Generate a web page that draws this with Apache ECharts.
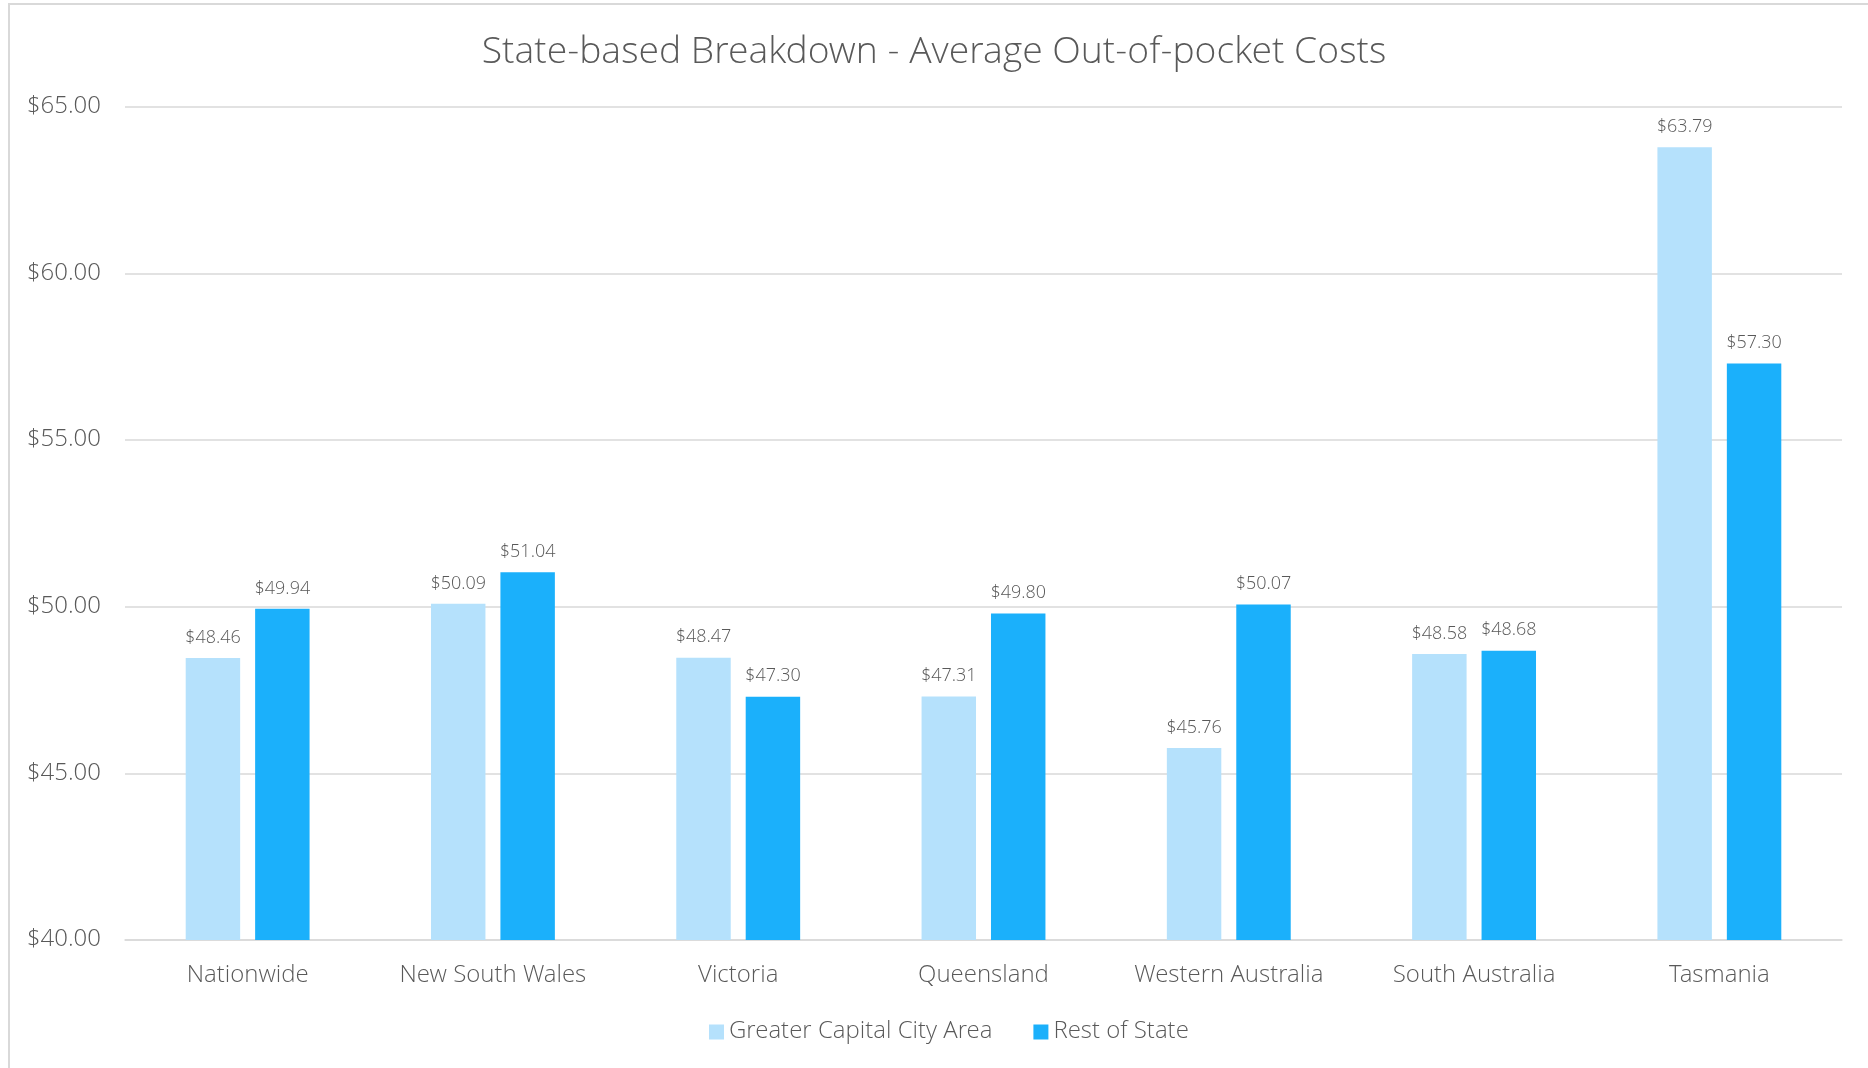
<!DOCTYPE html>
<html>
<head>
<meta charset="utf-8">
<title>State-based Breakdown</title>
<script src="https://cdn.jsdelivr.net/npm/echarts@6/dist/echarts.min.js"></script>
<style>
    html, body { margin: 0; padding: 0; background: #fff; }
    #frame {
        position: absolute; left: 8px; top: 3px; width: 1900px; height: 1100px;
        border-left: 2px solid #d9d9d9; border-top: 2px solid #d9d9d9;
    }
    #chart { position: absolute; left: 0; top: 0; width: 1868px; height: 1068px; }
</style>
</head>
<body>
<div id="frame"></div>
<div id="chart"></div>
<script>
    var categories = ['Nationwide', 'New South Wales', 'Victoria', 'Queensland', 'Western Australia', 'South Australia', 'Tasmania'];
    var capitalCity = [48.46, 50.09, 48.47, 47.31, 45.76, 48.58, 63.79];
    var restOfState = [49.94, 51.04, 47.30, 49.80, 50.07, 48.68, 57.30];
    var seriesNames = ['Greater Capital City Area', 'Rest of State'];

    var textColor = '#595959';
    var font = '"Open Sans Light", "Open Sans", "Noto Sans", sans-serif';

    // 数据标签
    var barLabel = {
        show: true,
        position: 'top',
        distance: 11,
        color: textColor,
        fontFamily: font,
        fontWeight: 300,
        fontSize: 18,
        formatter: function (p) { return '$' + p.value.toFixed(2); }
    };

    var chart = echarts.init(document.getElementById('chart'));
    var option = {
        animation: false,
        title: {
            text: 'State-based Breakdown - Average Out-of-pocket Costs',
            left: 'center',
            top: 30,
            textStyle: { color: textColor, fontFamily: font, fontWeight: 300, fontSize: 37.3 }
        },
        legend: {
            data: seriesNames,
            bottom: 19,
            left: 704,
            itemWidth: 15,
            itemHeight: 15,
            itemGap: 41,
            icon: 'rect',
            textStyle: { color: textColor, fontFamily: font, fontWeight: 300, fontSize: 24 }
        },
        grid: { left: 125, right: 26, top: 107, bottom: 128 },
        xAxis: {
            type: 'category',
            data: categories,
            axisLine: { lineStyle: { color: '#d9d9d9', width: 1.5 } },
            axisTick: { show: false },
            axisLabel: { interval: 0, color: textColor, fontFamily: font, fontWeight: 300, fontSize: 24, margin: 24 }
        },
        yAxis: {
            type: 'value',
            min: 40,
            max: 65,
            interval: 5,
            axisLine: { show: false },
            axisTick: { show: false },
            splitLine: { lineStyle: { color: '#d9d9d9', width: 1.5 } },
            axisLabel: {
                color: textColor, fontFamily: font, fontWeight: 300, fontSize: 24, margin: 24,
                formatter: function (v) { return '$' + v.toFixed(2); }
            }
        },
        series: [
            {
                name: seriesNames[0],
                type: 'bar',
                data: capitalCity,
                barWidth: '22.2%',
                barGap: '27.5%',
                itemStyle: { color: '#b5e1fc' },
                label: barLabel
            },
            {
                name: seriesNames[1],
                type: 'bar',
                data: restOfState,
                barWidth: '22.2%',
                itemStyle: { color: '#1bb0fb' },
                label: barLabel
            }
        ]
    };
    chart.setOption(option);
</script>
</body>
</html>
